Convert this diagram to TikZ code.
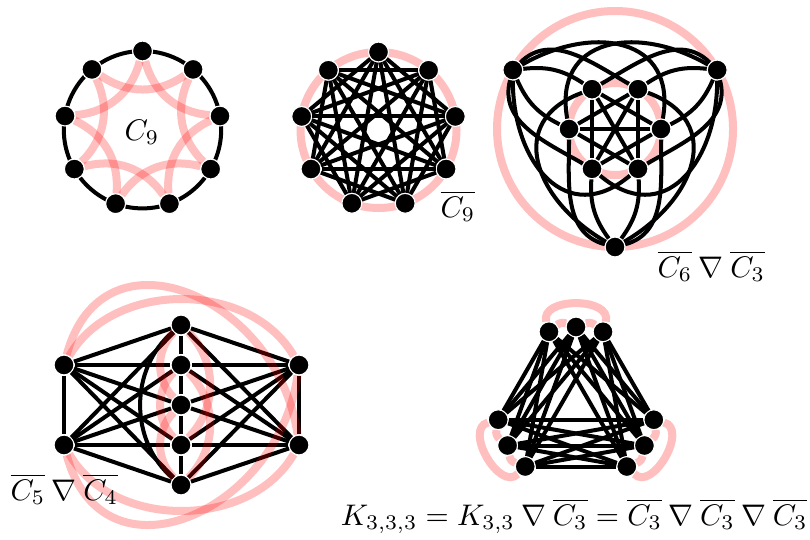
\documentclass[tikz,border=0pt]{standalone}
\usepackage{amsmath}

\begin{document}
\begin{tikzpicture}[
  x=0.3413pt, y=0.3413pt,
  vtx/.style={circle, fill=black, draw=white, line width=0.4pt, inner sep=0pt,
    minimum size=6.8pt},
  blk/.style={draw=black, line width=1.37pt},
  pnk/.style={draw=red, draw opacity=0.25, line width=2.73pt},
  lbl/.style={inner sep=0pt, scale=1.017}
]
  \useasboundingbox (0,0) rectangle (810,-539);

  \begin{scope}[shift={(142.5,-129.7)}]
    \draw[blk] (0,0) circle (78.7);
    \foreach \i in {0,...,8}
      \node[vtx] (a\i) at ({90-40*\i}:78.7) {};
    \foreach \i in {0,...,8} {
      \pgfmathtruncatemacro{\j}{mod(\i+2,9)}
      \draw[pnk] (a\i) to[bend right=35] (a\j);
    }
  \end{scope}
  \node[lbl, anchor=base] (nine) at (142,-140) {$C_9$};

  \begin{scope}[shift={(378.5,-130)}]
    \draw[pnk] (0,0) circle (78);
    \foreach \i in {0,...,8}
      \node[vtx] (b\i) at ({90-40*\i}:78) {};
    \foreach \i in {0,...,8}
      \foreach \d in {2,3,4} {
        \pgfmathtruncatemacro{\j}{mod(\i+\d,9)}
        \draw[blk] (b\i) -- (b\j);
      }
  \end{scope}
  \node[lbl, anchor=base west] (conine) at (440,-217) {$\overline{C_9}$};

  \begin{scope}[shift={(615,-129)}]
    \draw[pnk] (0,0) circle (118);
    \draw[pnk] (0,0) circle (46);
    \foreach \i in {0,...,5}
      \node[vtx] (c\i) at (60*\i:46) {};
    \foreach \o in {0,1,2}
      \node[vtx] (o\o) at (30+120*\o:118) {};
    \foreach \i/\j in {0/2,1/3,2/4,3/5,4/0,5/1,0/3,1/4,2/5}
      \draw[blk] (c\i) -- (c\j);
    \foreach \o in {0,1,2} {
      \pgfmathtruncatemacro{\ph}{30+120*\o}
      \pgfmathtruncatemacro{\na}{mod(2*\o,6)}
      \pgfmathtruncatemacro{\nb}{mod(2*\o+1,6)}
      \pgfmathtruncatemacro{\ma}{mod(2*\o+5,6)}
      \pgfmathtruncatemacro{\mb}{mod(2*\o+2,6)}
      \pgfmathtruncatemacro{\fa}{mod(2*\o+4,6)}
      \pgfmathtruncatemacro{\fb}{mod(2*\o+3,6)}
      \draw[blk] (o\o) to[bend left=20] (c\na);
      \draw[blk] (o\o) to[bend right=20] (c\nb);
      \draw[blk] (o\o) to[out=\ph-105, in=\ph] (c\ma);
      \draw[blk] (o\o) to[out=\ph+105, in=\ph] (c\mb);
      \draw[blk] (o\o) to[out=\ph-120, in=\ph-70, looseness=1.4] (c\fa);
      \draw[blk] (o\o) to[out=\ph+120, in=\ph+70, looseness=1.4] (c\fb);
    }
  \end{scope}
  \node[lbl, anchor=base west] (cosixthree) at (657,-277)
    {$\overline{C_6}\mathbin{\nabla}\overline{C_3}$};

  \node[vtx] (lt) at (64,-365) {};
  \node[vtx] (lb) at (64,-445) {};
  \node[vtx] (rt) at (299,-365) {};
  \node[vtx] (rb) at (299,-445) {};
  \foreach \i in {1,...,5}
    \node[vtx] (m\i) at (181,{-285-40*\i}) {};
  \draw[blk] (lt) -- (lb);
  \draw[blk] (rt) -- (rb);
  \foreach \s in {lt,lb,rt,rb}
    \foreach \i in {1,...,5}
      \draw[blk] (\s) -- (m\i);
  \draw[blk] (m1) -- (m2) (m2) -- (m3) (m3) -- (m4) (m4) -- (m5);
  \draw[blk] (m1) to[bend right=50] (m5);
  \draw[pnk] (lt) to[bend left=60] (rt);
  \draw[pnk] (lb) to[bend right=60] (rb);
  \draw[pnk] (lt) to[out=75, in=98, looseness=1.45] (rb);
  \draw[pnk] (lb) to[out=-75, in=-98, looseness=1.45] (rt);
  \foreach \i/\j in {1/3,2/4,3/5}
    \draw[pnk] (m\i) to[bend right=45] (m\j);
  \foreach \i/\j in {1/4,2/5}
    \draw[pnk] (m\i) to[bend left=45] (m\j);
  \node[lbl, anchor=base west] (cofivefour) at (10,-500)
    {$\overline{C_5}\mathbin{\nabla}\overline{C_4}$};

  \begin{scope}[shift={(576,-406)}]
    \foreach \k in {0,1,2}
      \foreach \m in {0,1,2}
        \node[vtx] (p\k\m) at ({110+120*\k-20*\m}:79) {};
    \foreach \k/\g in {0/90,1/210,2/330} {
      \draw[pnk] (p\k0) to[bend left=30] (p\k1);
      \draw[pnk] (p\k1) to[bend left=30] (p\k2);
      \draw[pnk] (p\k0) to[out=\g+15, in=\g-15, looseness=1.1] (p\k2);
    }
    \foreach \k/\l in {0/1,0/2,1/2}
      \foreach \m in {0,1,2}
        \foreach \n in {0,1,2}
          \draw[blk] (p\k\m) -- (p\l\n);
  \end{scope}
  \node[lbl, anchor=base east] (kthree) at (808,-525)
    {$K_{3,3,3}=K_{3,3}\mathbin{\nabla}\overline{C_3}=\overline{C_3}\mathbin{\nabla}\overline{C_3}\mathbin{\nabla}\overline{C_3}$};
\end{tikzpicture}
\end{document}
